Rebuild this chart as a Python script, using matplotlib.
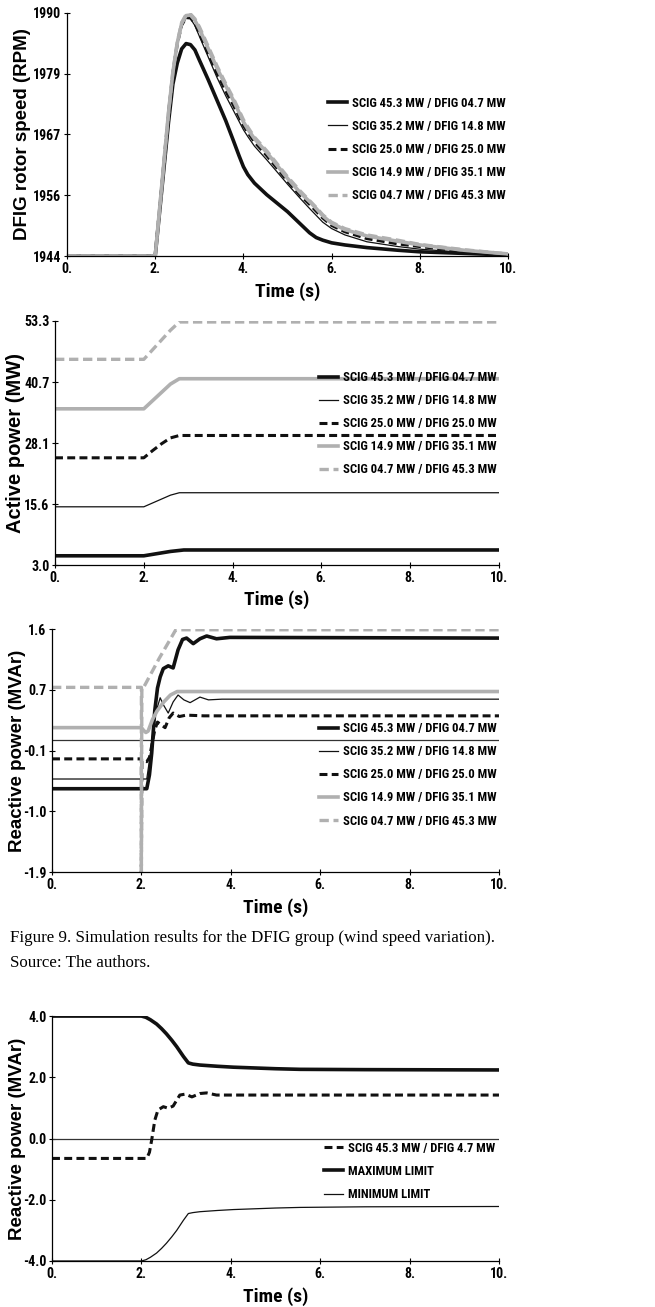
import matplotlib
matplotlib.use("Agg")
import matplotlib.pyplot as plt
from matplotlib import font_manager

# ---------------------------------------------------------------- data
series_names = ['SCIG 45.3 MW / DFIG 04.7 MW', 'SCIG 35.2 MW / DFIG 14.8 MW',
                'SCIG 25.0 MW / DFIG 25.0 MW', 'SCIG 14.9 MW / DFIG 35.1 MW',
                'SCIG 04.7 MW / DFIG 45.3 MW']

# rotor speed (RPM)
t_speed = [0, 2.0, 2.1, 2.2, 2.3, 2.4, 2.5, 2.6, 2.7, 2.8, 2.9, 3.0, 3.2, 3.4, 3.6, 3.77, 3.9,
           4.0, 4.1, 4.25, 4.53, 5.0, 5.3, 5.5, 5.65, 5.8, 6.0, 6.3, 6.8, 7.5, 8.0, 9.0, 10.0]
speed_45 = [1944, 1944, 1952.4, 1960.8, 1969.2, 1976.5, 1980.5, 1983.2, 1984.2, 1984.0, 1983.0,
            1981.1, 1977.4, 1973.5, 1969.6, 1965.9, 1963.0, 1960.9, 1959.4, 1957.8, 1955.6,
            1952.4, 1950.0, 1948.4, 1947.5, 1947.0, 1946.5, 1946.1, 1945.6, 1945.1, 1944.8,
            1944.5, 1944.2]
speed_35 = [1944, 1944, 1953.0, 1962.0, 1971.0, 1978.5, 1984.0, 1987.5, 1989.0, 1988.9, 1987.6,
            1985.6, 1981.7, 1977.8, 1974.3, 1971.6, 1969.5, 1967.9, 1966.6, 1964.8, 1962.2,
            1957.6, 1954.8, 1953.0, 1951.7, 1950.4, 1949.2, 1948.0, 1946.7, 1945.8, 1945.3,
            1944.7, 1944.2]
speed_25 = [1944, 1944, 1953.0, 1962.0, 1971.0, 1978.6, 1984.1, 1987.7, 1989.1, 1989.1, 1988.0,
            1986.2, 1982.4, 1978.6, 1975.2, 1972.6, 1970.4, 1968.7, 1967.4, 1965.6, 1963.0,
            1958.2, 1955.4, 1953.8, 1952.5, 1951.2, 1949.8, 1948.6, 1947.3, 1946.3, 1945.8,
            1944.9, 1944.3]
speed_15 = [1944, 1944, 1953.0, 1962.0, 1971.0, 1978.7, 1984.3, 1988.0, 1989.5, 1989.6, 1988.6,
            1987.0, 1983.3, 1979.6, 1976.2, 1973.5, 1971.2, 1969.4, 1968.0, 1966.2, 1963.6,
            1958.7, 1955.9, 1954.3, 1953.0, 1951.6, 1950.2, 1949.0, 1947.8, 1946.8, 1946.1,
            1945.1, 1944.4]
speed_05 = [1944, 1944, 1953.0, 1962.0, 1971.0, 1978.8, 1984.4, 1988.2, 1989.7, 1989.8, 1988.9,
            1987.4, 1983.7, 1980.0, 1976.6, 1973.9, 1971.6, 1969.8, 1968.4, 1966.5, 1963.9,
            1959.0, 1956.2, 1954.5, 1953.2, 1951.8, 1950.4, 1949.2, 1948.0, 1947.0, 1946.2,
            1945.2, 1944.4]
speed_ticks = [1944, 1955.5, 1967, 1978.5, 1990]
speed_ticklabels = ['1944', '1956', '1967', '1979', '1990']

# active power (MW)
t_active = [0, 2.0, 2.2, 2.4, 2.6, 2.8, 2.9, 3.0, 10.0]
active_45 = [4.9, 4.9, 5.2, 5.5, 5.8, 6.0, 6.1, 6.1, 6.1]
active_35 = [15.0, 15.0, 15.8, 16.6, 17.4, 17.9, 17.9, 17.9, 17.9]
active_25 = [25.1, 25.1, 26.6, 28.0, 29.2, 29.7, 29.7, 29.7, 29.7]
active_15 = [35.2, 35.2, 36.9, 38.6, 40.3, 41.4, 41.4, 41.4, 41.4]
active_05 = [45.4, 45.4, 47.4, 49.4, 51.4, 53.1, 53.1, 53.1, 53.1]
active_ticks = [3.0, 15.575, 28.15, 40.725, 53.3]
active_ticklabels = ['3.0', '15.6', '28.1', '40.7', '53.3']

# reactive power (MVAr)
t_q45 = [0, 2.12, 2.18, 2.23, 2.30, 2.36, 2.42, 2.49, 2.60, 2.71, 2.82, 2.92, 3.01, 3.16, 3.31,
         3.46, 3.68, 3.98, 10.0]
q_45 = [-0.70, -0.70, -0.50, -0.19, 0.43, 0.75, 0.91, 1.03, 1.07, 1.04, 1.30, 1.45, 1.47, 1.39,
        1.46, 1.50, 1.46, 1.48, 1.47]
t_q35 = [0, 2.12, 2.2, 2.3, 2.42, 2.5, 2.6, 2.71, 2.82, 2.95, 3.09, 3.31, 3.5, 3.8, 10.0]
q_35 = [-0.56, -0.56, -0.2, 0.35, 0.61, 0.50, 0.39, 0.55, 0.65, 0.58, 0.54, 0.62, 0.58, 0.59, 0.59]
t_q25 = [0, 2.0, 2.0, 2.01, 2.12, 2.18, 2.24, 2.30, 2.36, 2.44, 2.53, 2.62, 2.71, 2.85, 3.0, 3.4, 10.0]
q_25 = [-0.27, -0.27, -1.9, -0.30, -0.31, -0.25, -0.05, 0.15, 0.26, 0.22, 0.18, 0.32, 0.39, 0.34,
        0.36, 0.35, 0.35]
t_q15 = [0, 2.0, 2.05, 2.1, 2.15, 2.25, 2.35, 2.5, 2.65, 2.8, 10.0]
q_15 = [0.18, 0.18, 0.14, 0.11, 0.13, 0.30, 0.42, 0.55, 0.65, 0.70, 0.70]
t_q05 = [0, 2.0, 2.0, 2.01, 2.05, 2.4, 2.77, 10.0]
q_05 = [0.76, 0.76, -1.9, 0.76, 0.76, 1.18, 1.59, 1.59]
reactive_ticks = [-1.9, -1.025, -0.15, 0.725, 1.6]
reactive_ticklabels = ['-1.9', '-1.0', '-0.1', '0.7', '1.6']

# reactive power limits, SCIG 45.3 MW / DFIG 4.7 MW
t_dfig = [0, 2.12, 2.18, 2.23, 2.30, 2.37, 2.49, 2.60, 2.71, 2.86, 2.98, 3.13, 3.31, 3.46, 3.68, 10.0]
q_dfig = [-0.65, -0.65, -0.45, -0.05, 0.60, 0.93, 1.04, 0.99, 1.06, 1.42, 1.45, 1.36, 1.47, 1.49,
          1.42, 1.42]
t_limit = [0, 2.0, 2.1, 2.2, 2.34, 2.45, 2.56, 2.68, 2.79, 2.94, 3.05, 3.15, 3.31, 3.7, 4.06,
           5.0, 5.55, 7.0, 10.0]
q_max = [4.0, 4.0, 3.96, 3.88, 3.74, 3.59, 3.42, 3.21, 3.0, 2.68, 2.47, 2.43, 2.40, 2.36, 2.33,
         2.28, 2.26, 2.25, 2.24]
q_min = [-4.0, -4.0, -3.96, -3.88, -3.74, -3.59, -3.42, -3.21, -3.0, -2.67, -2.45, -2.42, -2.39,
         -2.35, -2.32, -2.27, -2.25, -2.23, -2.22]
limit_ticks = [-4.0, -2.0, 0.0, 2.0, 4.0]
limit_ticklabels = ['-4.0', '-2.0', '0.0', '2.0', '4.0']

time_ticks = [0, 2, 4, 6, 8, 10]
time_ticklabels = ['0.', '2.', '4.', '6.', '8.', '10.']

# ---------------------------------------------------------------- fonts
def have_font(name):
    try:
        font_manager.findfont(font_manager.FontProperties(family=name), fallback_to_default=False)
        return True
    except ValueError:
        return False


NARROW, NSCALE = 'Liberation Sans', 0.86
for cand in ['Liberation Sans Narrow', 'Roboto Condensed', 'DejaVu Sans Condensed']:
    if have_font(cand):
        NARROW, NSCALE = cand, 1.0
        break
WIDE = 'Liberation Sans'

# ---------------------------------------------------------------- styles
GRAY = '#b0b0b0'
styles = [dict(color='#111111', lw=2.6),
          dict(color='#111111', lw=0.9),
          dict(color='#111111', lw=2.2, dashes=(2.6, 1.4)),
          dict(color=GRAY, lw=2.6),
          dict(color=GRAY, lw=2.4, dashes=(2.8, 1.4))]

fig = plt.figure(figsize=(6.55, 13.07), dpi=100)


def style_axes(ax, yticks, yticklabels, ylim, ylabel, ylab_x, xlab_y, ylab_size=13.5):
    ax.set_xlim(0, 10)
    ax.set_ylim(*ylim)
    for s in ['top', 'right']:
        ax.spines[s].set_visible(False)
    for s in ['left', 'bottom']:
        ax.spines[s].set_linewidth(0.9)
    ax.set_xticks(time_ticks)
    ax.set_xticklabels(time_ticklabels)
    ax.set_yticks(yticks)
    ax.set_yticklabels(yticklabels)
    ax.tick_params(direction='inout', length=4, width=0.8, pad=2)
    for lab in ax.get_xticklabels() + ax.get_yticklabels():
        lab.set_family(NARROW)
        lab.set_fontweight('bold')
        lab.set_fontsize(10 * NSCALE)
    ax.set_ylabel(ylabel, family=WIDE, fontweight='bold', fontsize=ylab_size)
    ax.yaxis.set_label_coords(ylab_x, 0.5)
    ax.yaxis.label.set_va('center')
    ax.set_xlabel('Time (s)', family=NARROW, fontweight='bold', fontsize=14 * NSCALE)
    ax.xaxis.set_label_coords(0.5, xlab_y)
    ax.xaxis.label.set_va('center')


def add_legend(ax, x, y):
    ax.legend(loc='upper left', bbox_to_anchor=(x, y), frameon=False, borderpad=0,
              borderaxespad=0, handlelength=1.5, handletextpad=0.4,
              labelspacing=0.8,
              prop=dict(family=NARROW, weight='bold', size=9.1 * NSCALE))


# ------------------------------- rotor speed -------------------------------
ax1 = fig.add_axes([0.1023, 0.8041, 0.6733, 0.1860])
for vals, name, st in zip([speed_45, speed_35, speed_25, speed_15, speed_05], series_names, styles):
    ax1.plot(t_speed, vals, label=name, **st)
style_axes(ax1, speed_ticks, speed_ticklabels, (1944, 1990), 'DFIG rotor speed (RPM)', -0.1, -0.148)
add_legend(ax1, 0.592, 0.655)

# ------------------------------- active power -------------------------------
ax2 = fig.add_axes([0.0840, 0.5677, 0.6779, 0.1867])
for vals, name, st in zip([active_45, active_35, active_25, active_15, active_05], series_names, styles):
    ax2.plot(t_active, vals, label=name, **st)
style_axes(ax2, active_ticks, active_ticklabels, (3.0, 53.3), 'Active power (MW)', -0.088, -0.143,
           ylab_size=14.5)
add_legend(ax2, 0.595, 0.795)

# ------------------------------- reactive power -------------------------------
ax3 = fig.add_axes([0.0794, 0.3328, 0.6824, 0.1859])
ax3.axhline(0, color='#333333', lw=0.9)
reactive = [(t_q45, q_45), (t_q35, q_35), (t_q25, q_25), (t_q15, q_15), (t_q05, q_05)]
for (tt, vals), name, st in zip(reactive, series_names, styles):
    ax3.plot(tt, vals, label=name, **st)
style_axes(ax3, reactive_ticks, reactive_ticklabels, (-1.9, 1.6), 'Reactive power (MVAr)', -0.078, -0.148)
add_legend(ax3, 0.597, 0.617)

# ------------------------------- caption -------------------------------
fig.text(0.015, 1 - 938 / 1307, 'Figure 9. Simulation results for the DFIG group (wind speed variation).',
         family='Liberation Serif', fontsize=12.2, va='center', ha='left')
fig.text(0.015, 1 - 963 / 1307, 'Source: The authors.',
         family='Liberation Serif', fontsize=12.2, va='center', ha='left')

# ------------------------------- limits -------------------------------
ax4 = fig.add_axes([0.0794, 0.0352, 0.6824, 0.1874])
ax4.axhline(0, color='#333333', lw=0.9)
ax4.plot(t_dfig, q_dfig, color='#111111', lw=2.2, dashes=(2.6, 1.4), label='SCIG 45.3 MW / DFIG 4.7 MW')
ax4.plot(t_limit, q_max, color='#111111', lw=2.6, label='MAXIMUM LIMIT')
ax4.plot(t_limit, q_min, color='#111111', lw=0.9, label='MINIMUM LIMIT')
style_axes(ax4, limit_ticks, limit_ticklabels, (-4.0, 4.0), 'Reactive power (MVAr)', -0.078, -0.147)
add_legend(ax4, 0.608, 0.487)

fig.savefig('out.png', dpi=100)
